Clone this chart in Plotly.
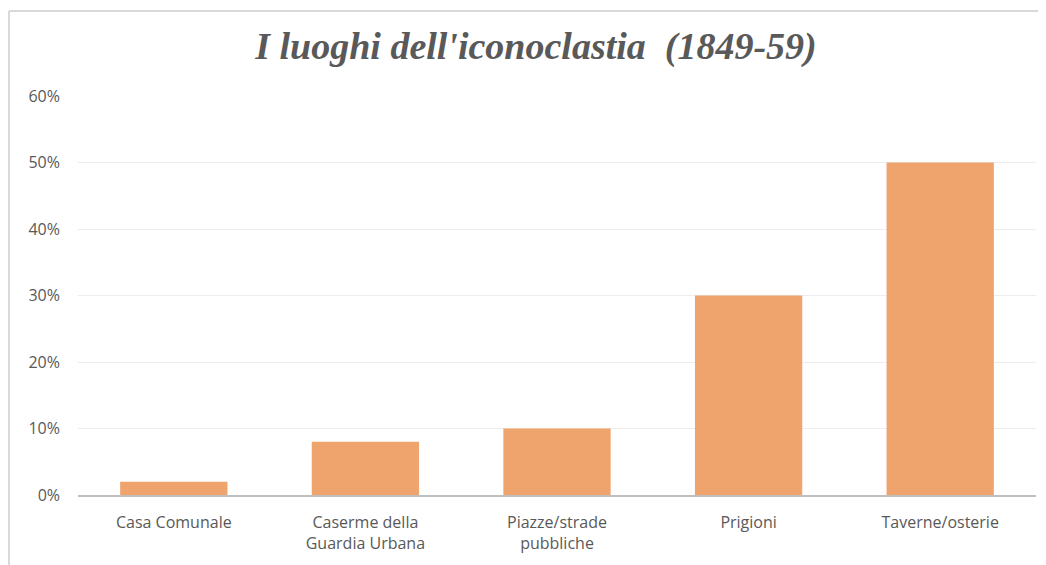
import plotly.graph_objects as go

categories = ["Casa Comunale", "Caserme della<br>Guardia Urbana", "Piazze/strade<br>pubbliche", "Prigioni", "Taverne/osterie"]
values = [0.02, 0.08, 0.10, 0.30, 0.50]
tick_vals = [0, 0.1, 0.2, 0.3, 0.4, 0.5, 0.6]
tick_text = ["0%", "10%", "20%", "30%", "40%", "50%", "60%"]
title_text = "I luoghi dell'iconoclastia  (1849-59)"

OFF = 8  # page body margin
W, H = 1046 - OFF, 565 - OFF
L, R, T, B = 78 - OFF, 10, 96 - OFF, 70
pw = W - L - R
ph = H - T - B

fig = go.Figure(go.Bar(
    x=categories, y=values,
    marker=dict(color="#F0A46D", line=dict(width=0)),
    hoverinfo="skip",
))

# outer chart border (left and top edges visible)
bx0 = (1 - L) / pw
by1 = 1 + (T - 3) / ph
fig.add_shape(type="line", xref="paper", yref="paper", x0=bx0, x1=(W - L + 5) / pw, y0=by1, y1=by1,
              line=dict(color="#D9D9D9", width=2))
fig.add_shape(type="line", xref="paper", yref="paper", x0=bx0, x1=bx0, y0=by1, y1=-(B + 5) / ph,
              line=dict(color="#D9D9D9", width=2))

fig.update_layout(
    width=W, height=H,
    margin=dict(l=L, r=R, t=T, b=B),
    paper_bgcolor="white", plot_bgcolor="white",
    bargap=0.44,
    showlegend=False,
    title=dict(text="<b><i>" + title_text + "</i></b>", x=(536 - OFF) / W, xanchor="center",
               y=1 - (46 - OFF) / H, yanchor="middle", yref="container",
               font=dict(family="Liberation Serif", size=38, color="#595959")),
    font=dict(family="Open Sans", size=16, color="#595959"),
)
fig.update_yaxes(range=[0, 0.6], tickvals=tick_vals, ticktext=tick_text,
                 showgrid=True, gridcolor="#EDEDED", gridwidth=1,
                 zeroline=False, showline=False, ticks="", ticklabelstandoff=17,
                 tickfont=dict(family="Open Sans", size=16, color="#595959"))
fig.update_xaxes(showline=True, linecolor="#BFBFBF", linewidth=2, ticks="",
                 ticklabelstandoff=12,
                 tickfont=dict(family="Open Sans", size=16, color="#595959"))

fig.write_html("out.html")
